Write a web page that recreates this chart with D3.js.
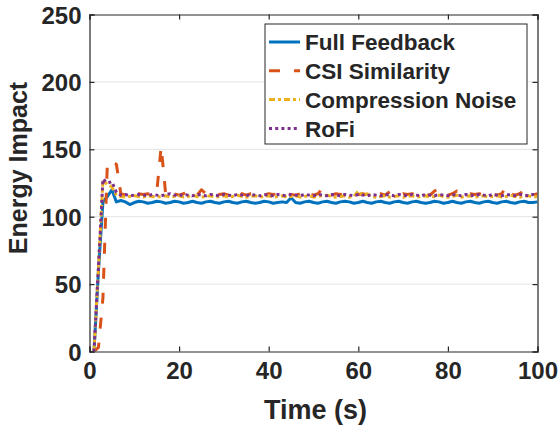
<!DOCTYPE html>
<html><head><meta charset="utf-8">
<script src="https://cdn.jsdelivr.net/npm/d3@7"></script>
<style>body{margin:0;background:#fff}svg{display:block}text{font-family:"Liberation Sans",Arial,Helvetica,sans-serif;font-weight:bold;fill:#262626}</style>
</head><body><svg id="c" width="559" height="426"></svg>
<script>
const time = d3.range(1, 101);
const fullFeedback = [0,60,111,115,120,111,112,111,109,110.5,
111.5,111,110,110.5,111.5,111,110,110.5,111.5,111,
110,110.5,111.5,110.5,110,111,111.5,110.5,110,111,
111.5,110.5,110,111,111.5,110.5,110,110.5,111.5,111,
110,110.5,111,110.5,114,110.5,110,111,111.5,110.5,
110,111,111.5,110.5,110,111,111.5,111,110,110.5,
111.5,110.5,110,111,111.5,110.5,110,111,111.5,110.5,
110,111,111.5,110.5,110,110.5,111.5,111,110,110.5,
111.5,110.5,110,111,111.5,110.5,110,111,111.5,110.5,
110,111,111.5,110.5,110,111,111.5,110.5,110.5,111];
const csiSimilarity = [0,3,40,141,140,139,117,116,117,116,
117,116.5,117,116,118,152,117,120,117,116,
117,119,117,116,120,117,116,117,116.5,117,
116,117,119.5,117,116,117,116.5,117,116,117,
116.5,117,116,117,116.5,116,117,119.5,117,116,
117,121,118,116,117,116.5,117,116,117,116.5,
117,116,117,116.5,117,116,118.5,117,116,117,
116.5,117,116,117,116.5,116,119,121,117,116,
117,119,117,116,117,116.5,117,116,117,116.5,
116,117,122,117,116,117,119.5,117,116,117];
const compressionNoise = [0,62,127,124,122,116,115,114.5,115,115.5,
115,114.5,115.5,115,114.5,115,115.5,114.5,115,115.5,
114.5,115,116,115,114.5,115,115.5,114.5,115,115.5,
114.5,115,116,115,114.5,115,115.5,114.5,115,115.5,
114.5,115,115.5,114.5,115,115.5,114.5,115,115.5,114.5,
115,115.5,116,115,114.5,115,115.5,114.5,115,119,
116,117,115,114.5,115,115.5,114.5,115,115.5,114.5,
115,115.5,114.5,115,115.5,114.5,115,116,115,114.5,
115,116,114.5,115,115.5,114.5,115,115.5,114.5,115,
115.5,114.5,115,116,115,114.5,115,115.5,114.5,115];
const roFi = [0,63,128,125,126,118,116,116.5,115.5,116,
116.5,116,115.5,116.5,116,115.5,116.5,117,116,115.5,
116.5,116,115.5,116.5,116,115.5,116.5,116,115.5,116.5,
116,115.5,116.5,116,115.5,116.5,116,115.5,116.5,116,
115.5,116.5,116,115.5,116.5,116,115.5,116.5,116,115.5,
116.5,116,115.5,116.5,116,115.5,116.5,116,115.5,116.5,
116,115.5,116.5,116,115.5,116.5,116,115.5,116.5,116,
115.5,116.5,116,115.5,116.5,116,115.5,116.5,116,115.5,
116.5,116,115.5,116.5,116,115.5,116.5,116,115.5,116.5,
116,115.5,116.5,116,115.5,116.5,116,115.5,116.5,116];
const seriesNames = ["Full Feedback","CSI Similarity","Compression Noise","RoFi"];
const xTicks = [0,20,40,60,80,100];
const yTicks = [0,50,100,150,200,250];

const colors = ["#0072BD","#D95319","#EDB120","#7E2F8E"];
const dashes = [null,"11,14","6,3,3,3","3,3.2"];
const allSeries = [fullFeedback, csiSimilarity, compressionNoise, roFi];

const svg = d3.select("#c");
const L=89.5, R=537.5, T=14.5, B=351.5;
const x = d3.scaleLinear().domain([0,100]).range([L,R]);
const y = d3.scaleLinear().domain([0,250]).range([B,T]);

// grid
svg.append("g").selectAll("line").data(yTicks.filter(v=>v>0&&v<250)).join("line")
  .attr("x1",L).attr("x2",R).attr("y1",d=>y(d)).attr("y2",d=>y(d))
  .attr("stroke","#e3e3e3").attr("stroke-width",1);

// lines
svg.append("clipPath").attr("id","cp").append("rect").attr("x",L).attr("y",T).attr("width",R-L).attr("height",B-T);
const lineGen = d3.line().x((d,i)=>x(time[i])).y(d=>y(d));
const lg = svg.append("g").attr("clip-path","url(#cp)");
allSeries.forEach((s,k)=>{
  lg.append("path").datum(s).attr("d",lineGen).attr("fill","none")
    .attr("stroke",colors[k]).attr("stroke-width",3)
    .attr("stroke-dasharray",dashes[k]).attr("stroke-linejoin","round");
});

// axes
const ax = svg.append("g");
const axB = d3.axisBottom(x).tickValues(xTicks).tickSize(-5).tickPadding(10);
const axL = d3.axisLeft(y).tickValues(yTicks).tickSize(-5).tickPadding(8);
const axT = d3.axisTop(x).tickValues(xTicks).tickSize(-5).tickFormat("");
const axR = d3.axisRight(y).tickValues(yTicks).tickSize(-5).tickFormat("");
const gB = ax.append("g").attr("transform",`translate(0,${B})`).call(axB);
const gL = ax.append("g").attr("transform",`translate(${L},0)`).call(axL);
ax.append("g").attr("transform",`translate(0,${T})`).call(axT);
ax.append("g").attr("transform",`translate(${R},0)`).call(axR);
ax.selectAll(".domain").attr("stroke","#262626").attr("stroke-width",1.2);
ax.selectAll(".tick line").attr("stroke","#262626").attr("stroke-width",1.2);
ax.selectAll(".tick text").style("font-size","24px").style("font-weight","bold").attr("fill","#262626")
  .style("font-family","Liberation Sans, Arial, sans-serif");
gB.selectAll(".tick text").attr("dy","0.71em");
gL.selectAll(".tick text").attr("dy","0.36em");

// axis labels
svg.append("text").attr("x",(L+R)/2+2).attr("y",419).attr("text-anchor","middle").style("font-size","27px").text("Time (s)");
svg.append("text").attr("transform",`translate(27,${168}) rotate(-90)`).attr("text-anchor","middle").style("font-size","25px").text("Energy Impact");

// legend
const leg = svg.append("g");
leg.append("rect").attr("x",265).attr("y",24).attr("width",262).attr("height",120).attr("fill","#fff").attr("stroke","#262626").attr("stroke-width",1);
seriesNames.forEach((n,k)=>{
  const cy = 42 + k*28.8;
  leg.append("line").attr("x1",269).attr("x2",300).attr("y1",cy).attr("y2",cy)
    .attr("stroke",colors[k]).attr("stroke-width",3).attr("stroke-dasharray",dashes[k]);
  leg.append("text").attr("x",305).attr("y",cy).attr("dy","0.36em").style("font-size","22.5px").text(n);
});
</script></body></html>
